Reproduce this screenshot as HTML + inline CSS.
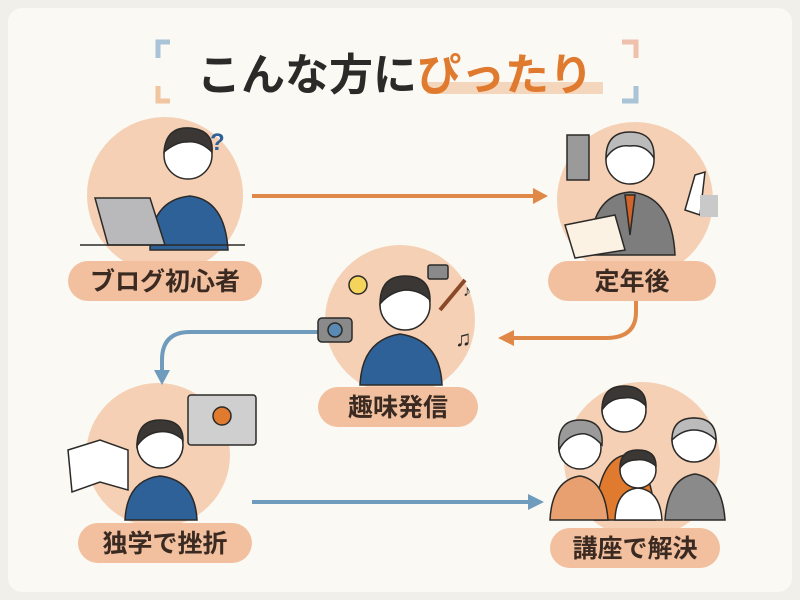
<!DOCTYPE html>
<html><head><meta charset="utf-8"><style>
html,body{margin:0;padding:0;background:#f6f4ee;}
svg{display:block}
text{font-family:"Liberation Sans","Noto Sans CJK JP",sans-serif;font-weight:700}
</style></head><body>
<svg width="800" height="600" viewBox="0 0 800 600" xmlns="http://www.w3.org/2000/svg">
<rect x="0" y="0" width="800" height="600" fill="#f1efe9"/>
<rect x="8" y="8" width="784" height="584" rx="14" fill="#faf9f4"/>
<!-- brackets -->
<path d="M170 42 H158 V58" fill="none" stroke="#a9c4d6" stroke-width="5"/>
<path d="M158 86 V101 H170" fill="none" stroke="#f0c5a0" stroke-width="5"/>
<path d="M622 42 H636 V58" fill="none" stroke="#efc1ad" stroke-width="5"/>
<path d="M636 86 V101 H622" fill="none" stroke="#a9c4d6" stroke-width="5"/>
<!-- title -->
<rect x="427" y="82" width="176" height="12" fill="#f4d6bd"/>
<text x="197" y="90" font-size="44" fill="#2b2a28">こんな方に<tspan fill="#e07a2e">ぴったり</tspan></text>

<!-- circles -->
<g fill="#f5d0b4">
<circle cx="165" cy="195" r="78"/>
<circle cx="635" cy="200" r="78"/>
<circle cx="400" cy="320" r="75"/>
<circle cx="158" cy="455" r="72"/>
<circle cx="642" cy="460" r="78"/>
</g>

<!-- arrows -->
<line x1="252" y1="196" x2="535" y2="196" stroke="#e08848" stroke-width="4"/>
<path d="M533 188 L548 196 L533 204 Z" fill="#e08848"/>
<path d="M636 300 V312 Q636 338 606 338 H512" fill="none" stroke="#e08848" stroke-width="4"/>
<path d="M514 330 L498 338 L514 346 Z" fill="#e08848"/>
<path d="M322 332 H190 Q162 332 162 360 V372" fill="none" stroke="#6f9bbd" stroke-width="4"/>
<path d="M154 370 L162 385 L170 370 Z" fill="#6f9bbd"/>
<line x1="252" y1="502" x2="530" y2="502" stroke="#6f9bbd" stroke-width="4"/>
<path d="M528 494 L544 502 L528 510 Z" fill="#6f9bbd"/>

<!-- figure 1: blog beginner -->
<g stroke="#2b2a28" stroke-width="1.5">
<path d="M150 250 Q150 200 190 196 Q225 200 228 250 Z" fill="#2f6199"/>
<circle cx="188" cy="155" r="24" fill="#fff"/>
<path d="M164 152 Q166 126 190 128 Q214 130 212 152 Q200 140 186 142 Q176 142 164 152Z" fill="#3a3735"/>
<path d="M95 198 L150 198 L165 245 L108 245 Z" fill="#b9b9bb"/>
<line x1="80" y1="245" x2="245" y2="245"/>
</g>
<text x="210" y="150" font-size="24" fill="#2f6199">?</text>
<!-- figure 2: retired -->
<g stroke="#2b2a28" stroke-width="1.5">
<rect x="567" y="135" width="22" height="45" fill="#9a9a9a"/>
<path d="M590 255 Q590 195 630 192 Q672 195 675 255 Z" fill="#7d7d7d"/>
<circle cx="630" cy="160" r="24" fill="#fff"/>
<path d="M606 158 Q606 132 630 132 Q655 132 654 158 Q645 144 630 146 Q615 144 606 158Z" fill="#bbb"/>
<path d="M625 195 L630 235 L635 195Z" fill="#d0642a"/>
<path d="M565 225 L615 215 L625 250 L575 258Z" fill="#fbf2e4"/>
<path d="M685 210 L695 175 L705 172 L700 215Z" fill="#fff"/>
</g>
<rect x="700" y="195" width="18" height="22" fill="#c9c9c9"/>
<!-- figure 3: hobby -->
<g stroke="#2b2a28" stroke-width="1.5">
<path d="M360 385 Q362 340 400 334 Q440 340 442 385 Z" fill="#2f6199"/>
<circle cx="405" cy="305" r="25" fill="#fff"/>
<path d="M380 304 Q380 276 405 276 Q430 276 430 300 Q420 290 405 290 Q390 292 380 304Z" fill="#3a3735"/>
<rect x="318" y="318" width="34" height="24" rx="4" fill="#8a8a8a"/>
<circle cx="335" cy="330" r="7" fill="#5a8ab4"/>
<circle cx="358" cy="285" r="9" fill="#f4d45a"/>
<rect x="428" y="265" width="20" height="14" rx="2" fill="#8a8a8a"/>
<line x1="440" y1="310" x2="465" y2="280" stroke-width="4" stroke="#8a4a2a"/>
</g>
<text x="455" y="346" font-size="22" fill="#2b2a28">♫</text>
<text x="463" y="296" font-size="16" fill="#2b2a28">♪</text>
<!-- figure 4: self study -->
<g stroke="#2b2a28" stroke-width="1.5">
<path d="M125 520 Q127 480 160 476 Q195 480 197 520 Z" fill="#2f6199"/>
<circle cx="160" cy="445" r="23" fill="#fff"/>
<path d="M137 446 Q137 420 160 420 Q183 420 183 440 Q172 430 158 432 Q145 434 137 446Z" fill="#3a3735"/>
<rect x="188" y="395" width="68" height="50" rx="3" fill="#cfcfcf"/>
<circle cx="222" cy="416" r="9" fill="#e07a2e"/>
<path d="M68 450 L100 440 L128 450 L128 490 L100 482 L72 492Z" fill="#fff"/>
</g>
<!-- figure 5: solved -->
<g stroke="#2b2a28" stroke-width="1.5">
<path d="M595 520 Q598 460 625 455 Q652 460 655 520Z" fill="#e07a2e"/>
<circle cx="624" cy="410" r="22" fill="#fff"/>
<path d="M602 410 Q602 386 624 386 Q646 386 646 406 Q636 396 624 398 Q610 398 602 410Z" fill="#3a3735"/>
<path d="M550 520 Q552 480 580 476 Q605 480 608 520Z" fill="#e8a070"/>
<circle cx="580" cy="448" r="21" fill="#fff"/>
<path d="M559 450 Q556 420 580 420 Q604 420 602 445 Q590 432 580 434 Q566 436 559 450Z" fill="#9a9a9a"/>
<path d="M665 520 Q668 478 695 474 Q722 478 725 520Z" fill="#8a8a8a"/>
<circle cx="694" cy="440" r="22" fill="#fff"/>
<path d="M672 440 Q672 418 694 418 Q716 418 716 440 Q706 430 694 430 Q682 430 672 440Z" fill="#bbb"/>
<path d="M615 520 Q616 490 638 488 Q660 490 662 520Z" fill="#fff"/>
<circle cx="638" cy="470" r="18" fill="#fff"/>
<path d="M620 468 Q620 450 638 450 Q656 450 656 466 Q646 458 636 460 Q626 460 620 468Z" fill="#3a3735"/>
</g>

<!-- pills -->
<g fill="#f2c09f">
<rect x="68" y="261" width="194" height="40" rx="20"/>
<rect x="548" y="261" width="168" height="40" rx="20"/>
<rect x="318" y="387" width="160" height="40" rx="20"/>
<rect x="78" y="523" width="174" height="40" rx="20"/>
<rect x="550" y="528" width="170" height="40" rx="20"/>
</g>
<g font-size="25" fill="#3a2a22" text-anchor="middle">
<text x="165" y="290">ブログ初心者</text>
<text x="632" y="290">定年後</text>
<text x="398" y="416">趣味発信</text>
<text x="165" y="552">独学で挫折</text>
<text x="635" y="557">講座で解決</text>
</g>
</svg>
</body></html>
